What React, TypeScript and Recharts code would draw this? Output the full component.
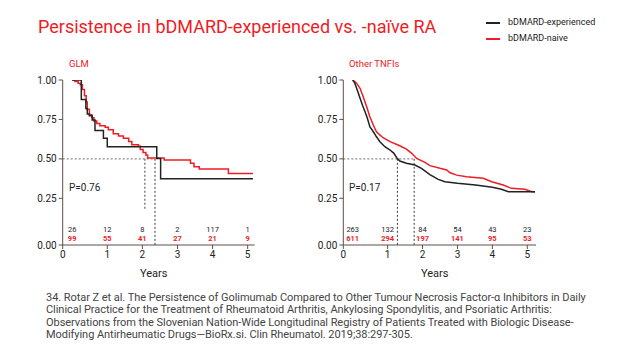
import React from 'react';
import { LineChart, Line, XAxis, YAxis, ReferenceLine, ReferenceDot } from 'recharts';

const RED = '#ee1c25';
const INK = '#222222';
const AXIS = '#5b5049';
const GREY = '#8a8a8a';
const FONT = 'Roboto, "Noto Sans", sans-serif';

// GLM panel
const GLM_EXP_T = [0, 0.26, 0.39, 0.43, 0.49, 0.57, 0.65, 0.89, 1.0, 2.41, 2.52, 5.15];
const GLM_EXP_S = [1.0, 0.877, 0.82, 0.785, 0.774, 0.746, 0.68, 0.63, 0.577, 0.503, 0.374, 0.374];
const GLM_NAIVE_T = [0, 0.08, 0.17, 0.23, 0.29, 0.35, 0.4, 0.43, 0.49, 0.56, 0.62, 0.7, 0.79, 0.94, 1.03, 1.17, 1.32, 1.46, 1.61, 1.7, 1.89, 1.94, 2.02, 2.1, 2.15, 2.62, 3.37, 3.47, 3.62, 4.45, 5.15];
const GLM_NAIVE_S = [1.0, 0.99, 0.98, 0.97, 0.94, 0.9, 0.86, 0.815, 0.78, 0.76, 0.74, 0.725, 0.71, 0.7, 0.685, 0.66, 0.645, 0.63, 0.61, 0.59, 0.58, 0.56, 0.54, 0.525, 0.505, 0.493, 0.472, 0.45, 0.436, 0.408, 0.408];
const GLM_RISK_EXP = [26, 12, 8, 2, 117, 1];
const GLM_RISK_NAIVE = [99, 55, 41, 27, 21, 9];
const GLM_MEDIANS = { naive: 2.07, exp: 2.36 };

// Other TNFi panel
const TNF_EXP_T = [0, 0.06, 0.13, 0.21, 0.28, 0.35, 0.42, 0.49, 0.59, 0.68, 0.78, 0.92, 1.07, 1.18, 1.26, 1.35, 1.54, 1.78, 1.97, 2.21, 2.45, 2.64, 3.0, 3.52, 4.0, 4.26, 4.46, 5.22];
const TNF_EXP_S = [1.0, 0.98, 0.937, 0.884, 0.84, 0.8, 0.757, 0.704, 0.672, 0.64, 0.609, 0.577, 0.556, 0.535, 0.507, 0.486, 0.472, 0.461, 0.44, 0.4, 0.37, 0.355, 0.345, 0.334, 0.32, 0.307, 0.292, 0.292];
const TNF_NAIVE_T = [0, 0.11, 0.21, 0.3, 0.4, 0.49, 0.59, 0.68, 0.76, 0.87, 1.07, 1.3, 1.54, 1.69, 1.83, 2.07, 2.21, 2.5, 2.69, 2.79, 2.98, 3.26, 3.74, 3.98, 4.31, 4.55, 4.93, 5.13, 5.22];
const TNF_NAIVE_S = [1.0, 0.98, 0.947, 0.894, 0.83, 0.767, 0.715, 0.672, 0.655, 0.634, 0.609, 0.588, 0.562, 0.535, 0.503, 0.478, 0.457, 0.44, 0.43, 0.412, 0.397, 0.387, 0.377, 0.355, 0.334, 0.313, 0.307, 0.292, 0.29];
const TNF_RISK_EXP = [263, 132, 84, 54, 43, 23];
const TNF_RISK_NAIVE = [611, 294, 197, 141, 95, 53];
const TNF_MEDIANS = { naive: 1.76, exp: 1.28 };

const RISK_YEARS = [0, 1, 2, 3, 4, 5];
const X_TICKS = [1, 2, 3, 4, 5];
const Y_TICKS = [0.25, 0.5, 0.75, 1.0];

const zip = (t: number[], s: number[]) => t.map((x, i) => ({ t: x, s: s[i] }));

type PanelProps = {
  exp: { t: number; s: number }[];
  naive: { t: number; s: number }[];
  riskExp: number[];
  riskNaive: number[];
  medians: { naive: number; exp: number };
  xMin: number;
  xMax: number;
  curve: 'stepAfter' | 'linear';
  shortNaiveDrop: boolean;
  marginLeft: number;
  marginRight: number;
};

// the axes start a little below 0 / left of year 0, as in the source figure
const Y_MIN = -0.046;

function riskLabel(value: number, color: string, bold: boolean) {
  return (p: any) => (
    <text
      x={p.cx}
      y={p.cy}
      textAnchor="middle"
      dominantBaseline="central"
      fontSize={7.5}
      fontFamily={FONT}
      fontWeight={bold ? 700 : 400}
      fill={color}
    >
      {value}
    </text>
  );
}

function Panel(props: PanelProps) {
  const { xMin, xMax, medians } = props;
  const xTicks = [xMin, ...X_TICKS];
  const yTicks = [Y_MIN, ...Y_TICKS];
  const tickStyle = { fontSize: 10, fill: INK, fontFamily: FONT };
  return (
    <LineChart
      width={300}
      height={290}
      margin={{ top: 80, right: props.marginRight, bottom: 13, left: props.marginLeft }}
    >
      <XAxis
        type="number"
        dataKey="t"
        domain={[xMin, xMax]}
        ticks={xTicks}
        tickFormatter={(v: number) => (v < 0.5 ? '0' : String(v))}
        allowDataOverflow
        tick={tickStyle}
        tickSize={4}
        stroke={AXIS}
        height={32}
        label={{ value: 'Years', position: 'insideBottom', offset: 0, dx: -5, fontSize: 11, fill: INK, fontFamily: FONT }}
      />
      <YAxis
        type="number"
        dataKey="s"
        domain={[Y_MIN, 1]}
        ticks={yTicks}
        tickFormatter={(v: number) => (v < 0 ? '0.00' : v.toFixed(2))}
        allowDataOverflow
        tick={tickStyle}
        tickSize={4}
        stroke={AXIS}
        width={40}
      />
      <ReferenceLine
        segment={[{ x: xMin, y: 0.5 }, { x: Math.max(medians.naive, medians.exp), y: 0.5 }]}
        stroke={GREY}
        strokeDasharray="2 2"
        strokeWidth={1.2}
      />
      <ReferenceLine
        segment={[{ x: medians.naive, y: 0.5 }, { x: medians.naive, y: props.shortNaiveDrop ? 0.176 : Y_MIN }]}
        stroke={props.shortNaiveDrop ? GREY : INK}
        strokeDasharray="2 2"
        strokeWidth={props.shortNaiveDrop ? 1.6 : 0.9}
      />
      <ReferenceLine
        segment={[{ x: medians.exp, y: 0.5 }, { x: medians.exp, y: Y_MIN }]}
        stroke={INK}
        strokeDasharray="2 2"
        strokeWidth={0.9}
      />
      <Line
        data={props.naive}
        dataKey="s"
        type={props.curve}
        stroke={RED}
        strokeWidth={1.5}
        dot={false}
        isAnimationActive={false}
      />
      <Line
        data={props.exp}
        dataKey="s"
        type={props.curve}
        stroke={INK}
        strokeWidth={1.5}
        dot={false}
        isAnimationActive={false}
      />
      {RISK_YEARS.map((yr, i) => (
        <ReferenceDot key={'e' + i} x={yr} y={0.055} r={0} shape={riskLabel(props.riskExp[i], INK, false)} />
      ))}
      {RISK_YEARS.map((yr, i) => (
        <ReferenceDot key={'n' + i} x={yr} y={-0.002} r={0} shape={riskLabel(props.riskNaive[i], RED, true)} />
      ))}
    </LineChart>
  );
}

export default function App() {
  return (
    <div
      style={{
        position: 'fixed',
        left: 0,
        top: 0,
        width: 624,
        height: 352,
        background: '#fff',
        fontFamily: FONT,
        overflow: 'hidden',
      }}
    >
      <div
        style={{
          position: 'absolute',
          left: 38,
          top: 16,
          fontSize: 18,
          color: RED,
          whiteSpace: 'nowrap',
        }}
      >
        Persistence in bDMARD-experienced vs. -naïve RA
      </div>
      <div style={{ position: 'absolute', left: 486, top: 16, fontSize: 9, color: INK, lineHeight: '13px' }}>
        <div style={{ display: 'flex', alignItems: 'center' }}>
          <span style={{ display: 'inline-block', width: 14, height: 2, background: INK, marginRight: 8 }} />
          bDMARD-experienced
        </div>
        <div style={{ display: 'flex', alignItems: 'center', marginTop: 3 }}>
          <span style={{ display: 'inline-block', width: 14, height: 2, background: RED, marginRight: 8 }} />
          bDMARD-naive
        </div>
      </div>
      <div style={{ position: 'absolute', left: 69, top: 58, fontSize: 9.5, color: RED }}>GLM</div>
      <div style={{ position: 'absolute', left: 349, top: 58, fontSize: 9.5, color: RED }}>Other TNFIs</div>
      <div style={{ position: 'absolute', left: 69, top: 182, fontSize: 10, color: INK }}>P=0.76</div>
      <div style={{ position: 'absolute', left: 349, top: 182, fontSize: 10, color: INK }}>P=0.17</div>
      <div style={{ position: 'absolute', left: 0, top: 0 }}>
        <Panel
          exp={zip(GLM_EXP_T, GLM_EXP_S)}
          naive={zip(GLM_NAIVE_T, GLM_NAIVE_S)}
          riskExp={GLM_RISK_EXP}
          riskNaive={GLM_RISK_NAIVE}
          medians={GLM_MEDIANS}
          xMin={-0.27}
          xMax={5.2}
          curve="stepAfter"
          shortNaiveDrop
          marginLeft={22.7}
          marginRight={45.3}
        />
      </div>
      <div style={{ position: 'absolute', left: 300, top: 0 }}>
        <Panel
          exp={zip(TNF_EXP_T, TNF_EXP_S)}
          naive={zip(TNF_NAIVE_T, TNF_NAIVE_S)}
          riskExp={TNF_RISK_EXP}
          riskNaive={TNF_RISK_NAIVE}
          medians={TNF_MEDIANS}
          xMin={-0.27}
          xMax={5.25}
          curve="linear"
          shortNaiveDrop={false}
          marginLeft={3.3}
          marginRight={64}
        />
      </div>
      <div
        style={{
          position: 'absolute',
          left: 46,
          top: 292,
          fontSize: 11,
          lineHeight: '12.3px',
          color: '#444',
          whiteSpace: 'nowrap',
          letterSpacing: -0.05,
        }}
      >
        34. Rotar Z et al. The Persistence of Golimumab Compared to Other Tumour Necrosis Factor-α Inhibitors in Daily
        <br />
        Clinical Practice for the Treatment of Rheumatoid Arthritis, Ankylosing Spondylitis, and Psoriatic Arthritis:
        <br />
        Observations from the Slovenian Nation-Wide Longitudinal Registry of Patients Treated with Biologic Disease-
        <br />
        Modifying Antirheumatic Drugs—BioRx.si. Clin Rheumatol. 2019;38:297-305.
      </div>
    </div>
  );
}
